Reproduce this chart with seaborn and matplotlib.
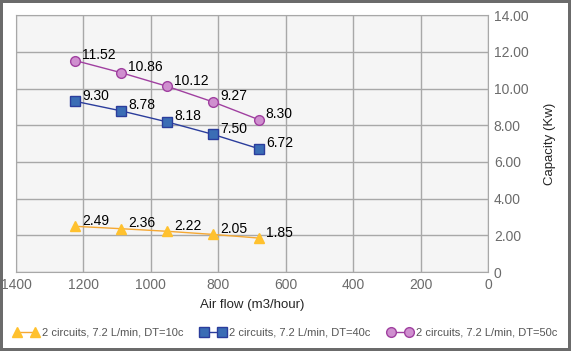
import pandas as pd
import matplotlib.pyplot as plt
import seaborn as sns
from matplotlib.ticker import FuncFormatter

# data
air_flow = [1224, 1088, 952, 816, 680]
cap_dt10 = [2.49, 2.36, 2.22, 2.05, 1.85]
cap_dt40 = [9.30, 8.78, 8.18, 7.50, 6.72]
cap_dt50 = [11.52, 10.86, 10.12, 9.27, 8.30]
series_names = ["2 circuits, 7.2 L/min, DT=10c",
                "2 circuits, 7.2 L/min, DT=40c",
                "2 circuits, 7.2 L/min, DT=50c"]

rows = []
for name, vals in zip(series_names, [cap_dt10, cap_dt40, cap_dt50]):
    for x, y in zip(air_flow, vals):
        rows.append({"Air flow": x, "Capacity": y, "Series": name})
df = pd.DataFrame(rows)

sns.set_style("white")
plt.rcParams['font.family'] = ['Liberation Sans', 'DejaVu Sans']

line_colors = {series_names[0]: "#F5A833", series_names[1]: "#2B3D9C", series_names[2]: "#A040A0"}
face_colors = {series_names[0]: "#FFC12E", series_names[1]: "#3B6DB5", series_names[2]: "#CF8FCF"}
edge_colors = {series_names[0]: "#FFC12E", series_names[1]: "#2B3D9C", series_names[2]: "#A040A0"}
markers = {series_names[0]: "^", series_names[1]: "s", series_names[2]: "o"}

fig = plt.figure(figsize=(5.71, 3.51), dpi=100, linewidth=3, edgecolor="#6b6b6b")
ax = fig.add_axes([0.028, 0.225, 0.827, 0.732])
ax.set_facecolor("#f5f5f5")

sns.lineplot(data=df, x="Air flow", y="Capacity", hue="Series", style="Series",
             palette=line_colors, markers=markers, dashes=False, linewidth=1,
             markersize=7, ax=ax, legend=False)

# set marker faces and edges per series
for line, name in zip(ax.get_lines(), series_names):
    line.set_markerfacecolor(face_colors[name])
    line.set_markeredgecolor(edge_colors[name])
    line.set_markeredgewidth(1)

for name, vals in zip(series_names, [cap_dt10, cap_dt40, cap_dt50]):
    for x, y in zip(air_flow, vals):
        ax.annotate(f"{y:.2f}", (x, y), xytext=(5, 4), textcoords="offset points",
                    fontsize=10, color="black", va="center", ha="left")

ax.set_xlim(1400, 0)
ax.set_ylim(0, 14)
ax.set_xticks(range(0, 1401, 200))
ax.set_yticks(range(0, 15, 2))
ax.yaxis.tick_right()
ax.yaxis.set_label_position("right")
ax.yaxis.set_major_formatter(FuncFormatter(lambda v, p: "0" if v == 0 else f"{v:.2f}"))
ax.grid(True, color="#a8a8a8", linewidth=1)
for s in ax.spines.values():
    s.set_color("#a8a8a8")
ax.tick_params(axis="both", length=0, labelsize=10, labelcolor="#6b6b6b", pad=4)
ax.set_xlabel("Air flow (m3/hour)", fontsize=9.5, labelpad=5)
ax.set_ylabel("Capacity (Kw)", fontsize=9.5, labelpad=11)

handles = [plt.Line2D([], [], color=line_colors[n], marker=markers[n], markersize=7,
                      markerfacecolor=face_colors[n], markeredgecolor=edge_colors[n],
                      linewidth=1) for n in series_names]
fig.legend(handles, series_names, loc="center", bbox_to_anchor=(0.5, 0.052), ncol=3,
           frameon=False, numpoints=2, fontsize=8, handlelength=2.2, handletextpad=0.3,
           columnspacing=1.6, labelcolor="#555555")

fig.savefig("out.png", dpi=100, edgecolor=fig.get_edgecolor())
